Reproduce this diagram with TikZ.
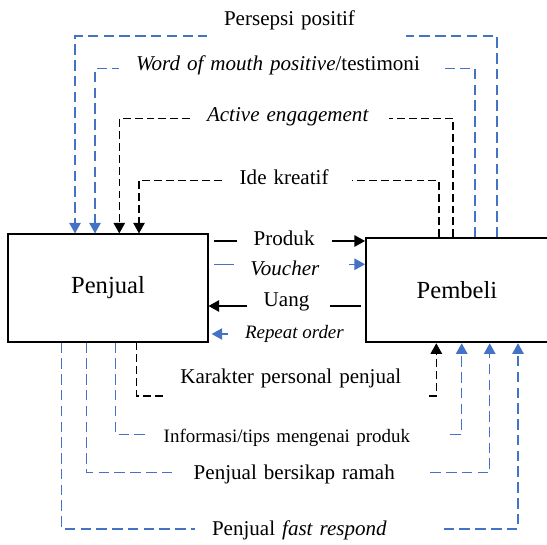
\documentclass[tikz,border=0pt]{standalone}
\usepackage{fontspec}
\setmainfont{Liberation Serif}
\usepackage{xcolor}
\usetikzlibrary{positioning}
\usetikzlibrary{arrows.meta}
\definecolor{wordblue}{RGB}{68,114,196}

\begin{document}
\begin{tikzpicture}[x=0.57pt, y=-0.57pt, every node/.style={font=\fontsize{12}{14}\selectfont}]
	\tikzstyle{party} = [draw, line width=1.1pt, font=\fontsize{14}{16}\selectfont]
	\tikzstyle{lbl} = [fill=white, anchor=west, inner xsep=9.5pt, inner ysep=3pt, align=left]
	\tikzstyle{bdash} = [draw=wordblue, line width=0.75pt, dash pattern=on 6pt off 3pt, -{Triangle[length=6pt, width=6.5pt]}]
	\tikzstyle{kdash} = [draw, line width=0.7pt, dash pattern=on 4.5pt off 2.3pt, -{Triangle[length=6pt, width=6.5pt]}]
	\tikzstyle{bline} = [draw=wordblue, line width=0.75pt, -{Triangle[length=6pt, width=6.5pt]}]
	\tikzstyle{kline} = [draw, line width=0.7pt, -{Triangle[length=6pt, width=6.5pt]}]
	
	\useasboundingbox (0,0) rectangle (547,545);
	
	\node [party, minimum width=113.5pt, minimum height=61.1pt] (penjual) at (108,288) {Penjual};
	\node [party, minimum width=103.7pt, minimum height=59.3pt, right=89.2pt of penjual, yshift=-1.3pt] (pembeli) {Pembeli};
	
	% corners of the loops
	\coordinate (pp1) at (75,36);      \coordinate (pp2) at (497,36);
	\coordinate (wm1) at (95,68.3);    \coordinate (wm2) at (475,68.3);
	\coordinate (ae1) at (119.3,118.3); \coordinate (ae2) at (453,118.3);
	\coordinate (ik1) at (139,180.3);  \coordinate (ik2) at (439,180.3);
	\coordinate (kp1) at (136.7,396);  \coordinate (kp2) at (436.3,396);
	\coordinate (it1) at (115.7,434.3); \coordinate (it2) at (461.7,434.3);
	\coordinate (br1) at (86.7,472.7); \coordinate (br2) at (489.7,472.7);
	\coordinate (fr1) at (61.7,529);   \coordinate (fr2) at (518,529);
	\coordinate (pr) at (0,241);
	\coordinate (vc) at (0,264.3);
	\coordinate (ug) at (0,306);
	
	\path [bdash] (pembeli.north -| pp2) -- (pp2) -- (pp1) -- (penjual.north -| pp1);
	\path [bdash] (pembeli.north -| wm2) -- (wm2) -- (wm1) -- (penjual.north -| wm1);
	\path [kdash] (pembeli.north -| ae2) -- (ae2) -- (ae1) -- (penjual.north -| ae1);
	\path [kdash] (pembeli.north -| ik2) -- (ik2) -- (ik1) -- (penjual.north -| ik1);
	
	\path [kdash] (penjual.south -| kp1) -- (kp1) -- (kp2) -- (pembeli.south -| kp2);
	\path [bdash] (penjual.south -| it1) -- (it1) -- (it2) -- (pembeli.south -| it2);
	\path [bdash] (penjual.south -| br1) -- (br1) -- (br2) -- (pembeli.south -| br2);
	\path [bdash] (penjual.south -| fr1) -- (fr1) -- (fr2) -- (pembeli.south -| fr2);
	
	\path [kline, shorten <=3pt] (penjual.east |- pr) -- (pembeli.west |- pr);
	\path [bline, shorten <=3pt] (penjual.east |- vc) -- (pembeli.west |- vc);
	\path [kline, shorten <=2.4pt] (pembeli.west |- ug) -- (penjual.east |- ug);
	
	\node [lbl, text width=94.3pt, inner ysep=5pt] (persepsi) at (207,20.7) {Persepsi positif};
	\node [lbl, text width=166.6pt] (wom) at (119,65) {\textit{Word of mouth positive}/testimoni};
	\node [lbl, text width=94.3pt] (active) at (190,117) {\textit{Active engagement}};
	\node [lbl, text width=54.3pt] (ide) at (222.7,177) {Ide kreatif};
	\node [lbl, text width=130.3pt, inner ysep=6pt] (karakter) at (163.3,378.3) {Karakter personal penjual};
	\node [lbl, text width=151.8pt, font=\fontsize{10.8}{13}\selectfont] (info) at (146.7,437.7) {Informasi/tips mengenai produk};
	\node [lbl, text width=122.7pt] (ramah) at (176.7,474) {Penjual bersikap ramah};
	\node [lbl, text width=122.4pt] (fast) at (195,530.7) {Penjual \textit{fast respond}};
	\node [lbl, text width=35.2pt] (produk) at (236.7,238) {Produk};
	\node [lbl, text width=46.6pt] (voucher) at (233.3,268) {\textit{Voucher}};
	\node [lbl, text width=28.1pt] (uang) at (246.7,301.7) {Uang};
	\node [anchor=west, inner xsep=9.5pt, font=\fontsize{10.8}{13}\selectfont\itshape] (repeat) at (228,334) {Repeat order};
	
	\path [bline, shorten >=1.8pt] (repeat.west) -- (penjual.east |- repeat.west);
\end{tikzpicture}
\end{document}
